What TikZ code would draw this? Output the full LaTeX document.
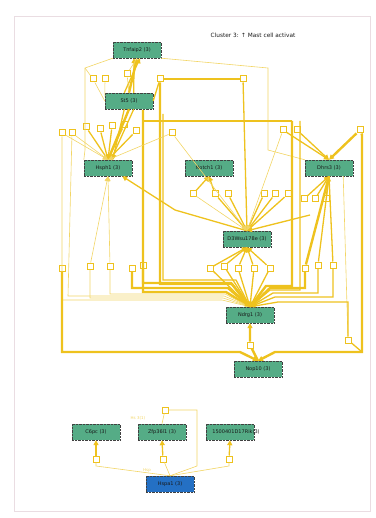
\documentclass[tikz,border=0pt]{standalone}
\usepackage{fontspec}
\setmainfont{DejaVu Sans}
\usetikzlibrary{arrows.meta}
\definecolor{ng}{HTML}{55AC86}
\definecolor{yl}{HTML}{EEC21E}
\definecolor{ylt}{HTML}{F2D565}
\definecolor{bl}{HTML}{2470C4}
\definecolor{framec}{HTML}{EADDE2}
\tikzset{
  gnode/.style={draw=black!75, densely dotted, fill=ng, minimum width=48pt, minimum height=16pt, inner sep=1pt, font=\fontsize{5}{6}\selectfont, text=black!90},
  bnode/.style={gnode, fill=bl},
  wp/.style={draw=yl, fill=white, minimum size=6pt, inner sep=0pt, line width=1pt},
  yfat/.style={draw=yl, line width=2.4pt},
  ymid/.style={draw=yl, line width=1.3pt},
  ythin/.style={draw=ylt, line width=0.6pt},
  tip/.style={-{Triangle[length=5pt,width=5pt]}},
  lbl/.style={font=\fontsize{5}{6}\selectfont, text=black!90, inner sep=0pt},
  elbl/.style={font=\fontsize{4}{5}\selectfont, text=ylt, inner sep=0pt}
}
\begin{document}
\begin{tikzpicture}[x=1pt,y=-1pt]
\useasboundingbox (0,0) rectangle (375,518);
\draw[framec, line width=0.6pt] (14,16) rectangle (370,511);
\node[lbl, font=\fontsize{5.8}{7}\selectfont] (title) at (253,35) {Cluster 3: ↑ Mast cell activat};

% waypoints
\node[wp] (w1) at (127,74) {};
\node[wp] (w2) at (93,79) {};
\node[wp] (w3) at (105,79) {};
\node[wp] (w4) at (160,79) {};
\node[wp] (w5) at (243,79) {};
\node[wp] (w6) at (62,133) {};
\node[wp] (w7) at (72,133) {};
\node[wp] (w8) at (86,127) {};
\node[wp] (w9) at (100,129) {};
\node[wp] (w10) at (112,126) {};
\node[wp] (w11) at (124,125) {};
\node[wp] (w12) at (136,131) {};
\node[wp] (w13) at (172,133) {};
\node[wp] (w14) at (283,130) {};
\node[wp] (w15) at (297,130) {};
\node[wp] (w16) at (360,130) {};
\node[wp] (w17) at (193,194) {};
\node[wp] (w18) at (215,194) {};
\node[wp] (w19) at (228,194) {};
\node[wp] (w20) at (264,194) {};
\node[wp] (w21) at (275,194) {};
\node[wp] (w22) at (288,194) {};
\node[wp] (w23) at (304,199) {};
\node[wp] (w24) at (315,199) {};
\node[wp] (w25) at (326,199) {};
\node[wp] (w26) at (90,266) {};
\node[wp] (w27) at (110,266) {};
\node[wp] (w28) at (62,268) {};
\node[wp] (w29) at (132,268) {};
\node[wp] (w30) at (143,265) {};
\node[wp] (wa) at (210,268) {};
\node[wp] (wb) at (224,266) {};
\node[wp] (wc) at (238,268) {};
\node[wp] (wd) at (254,268) {};
\node[wp] (we) at (270,268) {};
\node[wp] (w32) at (305,268) {};
\node[wp] (w33) at (318,265) {};
\node[wp] (w34) at (333,265) {};
\node[wp] (w35) at (348,340) {};
\node[wp] (w36) at (250,345) {};
\node[wp] (w37) at (96,459) {};
\node[wp] (w38) at (163,459) {};
\node[wp] (w39) at (229,459) {};
\node[wp] (w40) at (165,410) {};

% corner coordinates
\coordinate (tl) at (85,68);
\coordinate (tr) at (268,68);
\coordinate (tlb) at (85,150);
\coordinate (trb) at (268,150);
\coordinate (l1) at (143,110);
\coordinate (l1b) at (143,292);
\coordinate (l1c) at (226,292);
\coordinate (l2b) at (160,284);
\coordinate (l2c) at (232,284);
\coordinate (h1a) at (143,121);
\coordinate (h1b) at (292,121);
\coordinate (h1c) at (292,286);
\coordinate (h1d) at (266,286);
\coordinate (h2a) at (163,114);
\coordinate (h2b) at (163,280);
\coordinate (h2c) at (236,280);
\coordinate (r3a) at (300,121);
\coordinate (r3b) at (300,290);
\coordinate (r3c) at (270,290);
\coordinate (lpa) at (62,352);
\coordinate (lpb) at (362,352);
\coordinate (lpc) at (362,135);
\coordinate (lpd) at (240,352);
\coordinate (lpe) at (275,352);
\coordinate (lf1) at (68,296);
\coordinate (lf1c) at (224,296);
\coordinate (lf2) at (62,300);
\coordinate (lf2c) at (222,300);
\coordinate (lf3) at (90,298);
\coordinate (lf3c) at (223,298);
\coordinate (lf4) at (110,294);
\coordinate (lf4c) at (225,294);
\coordinate (tw1) at (132,288);
\coordinate (tw1c) at (228,288);
\coordinate (tw2) at (143,283);
\coordinate (tw2c) at (231,283);
\coordinate (rf1) at (348,302);
\coordinate (rf1c) at (278,302);
\coordinate (rf2) at (333,297);
\coordinate (rf2c) at (275,297);
\coordinate (rf3) at (318,293);
\coordinate (rf3c) at (273,293);
\coordinate (rf4) at (305,288);
\coordinate (rf4c) at (270,288);
\coordinate (b1) at (96,466);
\coordinate (b2) at (229,466);
\coordinate (b3) at (197,466);
\coordinate (b4) at (197,410);
\coordinate (d3l) at (175,210);
\coordinate (d3r) at (310,215);

% nodes
\node[gnode] (tnf) at (137,50) {Tnfaip2 (3)};
\node[gnode] (st5) at (129,101) {St5 (3)};
\node[gnode] (hsp) at (108,168) {Hsph1 (3)};
\node[gnode] (ntc) at (209,168) {Notch1 (3)};
\node[gnode] (dhr) at (329,168) {Dhrs3 (3)};
\node[gnode] (d3w) at (247,239) {};
\node[lbl] (d3wt) at (247,239) {D3Wsu178e (3)};
\node[gnode] (ndr) at (250,315) {Ndrg1 (3)};
\node[gnode] (nop) at (258,369) {Nop10 (3)};
\node[gnode] (c6p) at (96,432) {C6pc (3)};
\node[gnode] (zfp) at (162,432) {Zfp36l1 (3)};
\node[gnode] (rik) at (230,432) {};
\node[lbl] (rikt) at (236,432) {1500401D17Rik(3)};
\node[bnode] (hsa) at (170,484) {Hspa1 (3)};

% ---- top part
\draw[ythin] (tnf.south west) -- (tl) -- (tlb) -- (hsp.north west);
\draw[ythin] (tnf.south east) -- (tr) -- (trb) -- (dhr.north west);
\draw[yfat,tip] (st5.north) -- (tnf.south);
\draw[ymid,tip] (st5.120) -- (tnf.-70);
\draw[ymid,tip] (st5.60) -- (tnf.-110);
\draw[ythin] (st5.north) -- (w1) -- (tnf.south);
\draw[ythin] (w2) -- (st5.west);
\draw[ythin] (w3) -- (st5.170);
\draw[ythin] (w2) -- (tl);
\draw[ymid] (w4) -- (w5);
\draw[ymid,tip] (w5) -- (d3w.north);
\draw[yfat,tip] (w4) -- (l2b) -- (l2c) -- (ndr.north);
\draw[yfat,tip] (l1) -- (l1b) -- (l1c) -- (ndr.north);
\draw[ymid] (h1a) -- (h1b);
\draw[yfat,tip] (h1b) -- (h1c) -- (h1d) -- (ndr.north);
\draw[ymid,tip] (h2a) -- (h2b) -- (h2c) -- (ndr.north);
\draw[ymid,tip] (r3a) -- (r3b) -- (r3c) -- (ndr.north);
\draw[ymid] (st5.east) -- (w4);

% ---- Hsph1
\draw[yfat,tip] (st5.south) -- (hsp.north);
\draw[ymid,tip] (st5.-120) -- (hsp.60);
\draw[ymid,tip] (st5.-60) -- (hsp.70);
\foreach \w in {w8,w9,w10,w11,w12} {\draw[ymid,tip] (\w) -- (hsp.north);}
\foreach \w in {w6,w7,w13} {\draw[ythin,tip] (\w) -- (hsp.north);}
\draw[ythin] (w6) -- (lf2) -- (lf2c) -- (ndr.north);
\draw[ythin] (w7) -- (lf1) -- (lf1c) -- (ndr.north);
\draw[ythin,tip] (w26) -- (hsp.south);
\draw[ythin,tip] (w27) -- (hsp.south);
\draw[ythin] (w26) -- (lf3) -- (lf3c) -- (ndr.north);
\draw[ythin] (w27) -- (lf4) -- (lf4c) -- (ndr.north);
\draw[ymid,tip] (d3w.north) -- (d3l) -- (hsp.-30);

% ---- Notch1
\draw[ymid,tip] (w17) -- (ntc.south);
\draw[ymid,tip] (w18) -- (ntc.south);
\draw[ythin] (d3w.north) -- (w17);
\draw[ymid] (d3w.north) -- (w18);

% ---- D3Wsu178e fan
\foreach \w in {w19,w20,w21,w22} {\draw[ymid,tip] (\w) -- (d3w.north);}
\draw[ythin,tip] (w13) -- (d3w.north);
\draw[ythin,tip] (w14) -- (d3w.north);
\draw[ymid,tip] (d3r) -- (d3w.north);
\foreach \w in {wa,wb,wc,wd,we} {\draw[ymid,tip] (\w) -- (d3w.south); \draw[ymid] (\w) -- (ndr.north);}

% ---- Dhrs3
\foreach \w in {w14,w15} {\draw[ymid,tip] (\w) -- (dhr.north);}
\draw[yfat,tip] (w16) -- (dhr.north);
\foreach \w in {w23,w24,w25} {\draw[ymid,tip] (\w) -- (dhr.south);}
\draw[yfat] (dhr.south) -- (w32);
\draw[ymid] (dhr.south) -- (w33);
\draw[ymid] (dhr.south) -- (w34);
\draw[yfat,tip] (w32) -- (rf4) -- (rf4c) -- (ndr.north);
\draw[ymid,tip] (w33) -- (rf3) -- (rf3c) -- (ndr.north);
\draw[ymid,tip] (w34) -- (rf2) -- (rf2c) -- (ndr.north);
\draw[ythin] (dhr.-30) -- (w35);
\draw[ymid] (w35) -- (rf1) -- (rf1c) -- (ndr.north);

% ---- left thick squares
\draw[yfat,tip] (w29) -- (tw1) -- (tw1c) -- (ndr.north);
\draw[yfat,tip] (w30) -- (tw2) -- (tw2c) -- (ndr.north);

% ---- big loop to Nop10
\draw[yfat,tip] (w28) -- (lpa) -- (lpd) -- (nop.north);
\draw[yfat,tip] (w16) -- (lpc) -- (lpb) -- (lpe) -- (nop.north);
\draw[ymid] (w35) -- (lpb);
\draw[yfat,tip] (nop.north) -- (w36) -- (ndr.south);

% ---- bottom cluster
\draw[ythin] (hsa.north) -- (b1) -- (w37);
\draw[ymid,tip] (w37) -- (c6p.south);
\draw[ythin] (hsa.north) -- (w38);
\draw[ymid,tip] (w38) -- (zfp.south);
\draw[ythin] (hsa.north) -- (b2) -- (w39);
\draw[ymid,tip] (w39) -- (rik.south);
\draw[ythin] (hsa.north) -- (b3) -- (b4) -- (w40);
\draw[ythin] (w40) -- (zfp.north);
\node[elbl] (lb1) at (138,418) {Hs 3(1)};
\node[elbl] (lb2) at (147,470) {Hsp};
\end{tikzpicture}
\end{document}
